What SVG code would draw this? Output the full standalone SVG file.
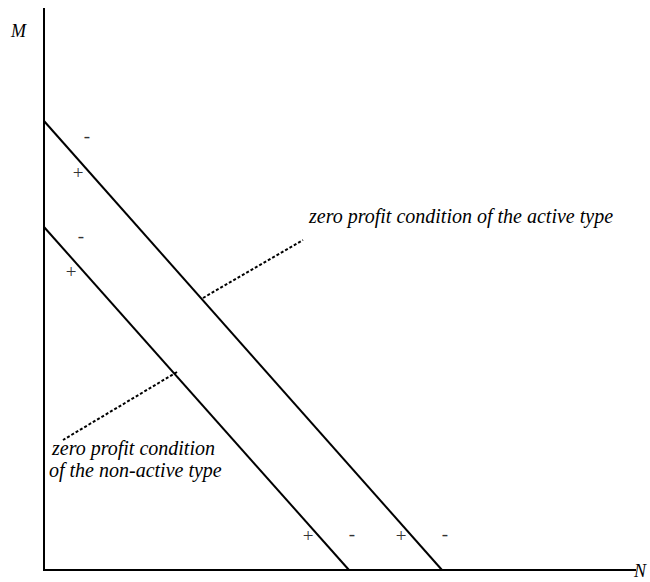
<svg xmlns="http://www.w3.org/2000/svg" width="650" height="582" viewBox="0 0 650 582">
<style>
.ax{stroke:#000;stroke-width:2;fill:none}
.ln{stroke:#000;stroke-width:2;fill:none}
.dash{stroke:#000;stroke-width:2;stroke-dasharray:3,2;fill:none}
.lbl{font-family:'Liberation Serif','Times New Roman','DejaVu Serif',serif;font-style:italic;font-size:20px;fill:#000}
.ml{font-family:'Liberation Serif','Times New Roman','DejaVu Serif',serif;font-style:italic;font-size:18px;fill:#000}
.sg{font-family:'Liberation Serif','Times New Roman','DejaVu Serif',serif;font-size:19px;fill:#333;text-anchor:middle}
</style>
<rect width="650" height="582" fill="#fff"/>
<g id="axes">
<line class="ax" x1="44" y1="8" x2="44" y2="571"/>
<line class="ax" x1="43" y1="570" x2="636" y2="570"/>
<text class="ml" x="11" y="37">M</text>
<text class="ml" x="634" y="577">N</text>
</g>
<g id="active-line">
<line class="ln" x1="44" y1="121" x2="442" y2="570"/>
<text class="sg" x="87" y="142">-</text>
<text class="sg" x="78" y="179">+</text>
<text class="sg" x="401" y="542">+</text>
<text class="sg" x="445" y="540">-</text>
</g>
<g id="nonactive-line">
<line class="ln" x1="44" y1="227" x2="349" y2="570"/>
<text class="sg" x="81" y="242">-</text>
<text class="sg" x="71" y="278">+</text>
<text class="sg" x="308" y="542">+</text>
<text class="sg" x="352" y="540">-</text>
</g>
<g id="connectors">
<line class="dash" x1="203" y1="298" x2="303" y2="240"/>
<line class="dash" x1="177" y1="372" x2="63" y2="440"/>
</g>
<g id="label-active">
<text class="lbl" x="309" y="223">zero profit condition of the active type</text>
</g>
<g id="label-nonactive">
<text class="lbl" x="52" y="455">zero profit condition</text>
<text class="lbl" x="49" y="477">of the non-active type</text>
</g>
</svg>
